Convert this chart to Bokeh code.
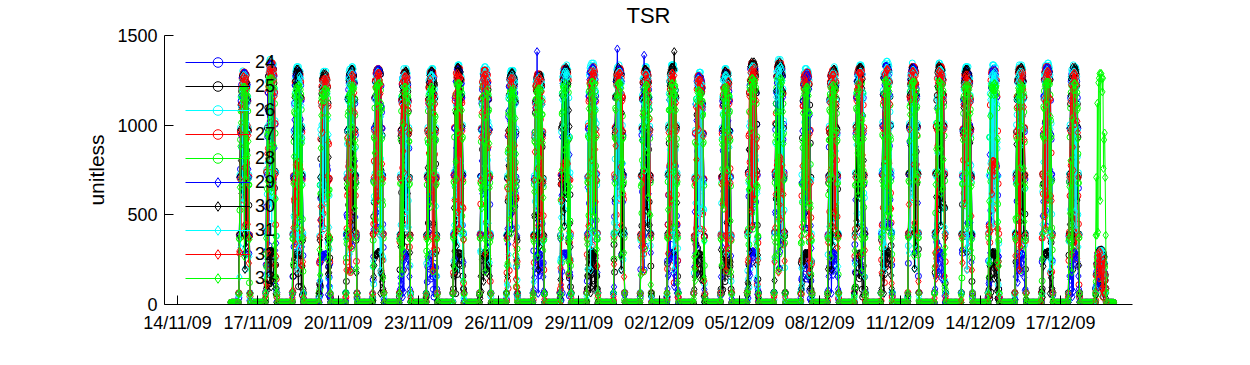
import numpy as np
import pandas as pd
from bokeh.plotting import figure
from bokeh.models import Range1d, FixedTicker, DatetimeTickFormatter, Legend, LegendItem, Title
from bokeh.embed import file_html
from bokeh.resources import INLINE

# ---------------- data ----------------
SERIES = ["24", "25", "26", "27", "28", "29", "30", "31", "32", "33"]
COLORS = ["#0000FF", "#000000", "#00FFFF", "#FF0000", "#00FF00",
          "#0000FF", "#000000", "#00FFFF", "#FF0000", "#00FF00"]
MARKERS = ["circle"] * 5 + ["diamond"] * 5

START_DATE = "2009-11-16"          # first day with data
# daily peak read from the top clusters, 16/11/09 .. 18/12/09
DAY_PEAK = [1290, 1340, 1300, 1275, 1300, 1310, 1290, 1290, 1310, 1300,
            1280, 1280, 1310, 1320, 1310, 1300, 1310, 1270, 1290, 1340,
            1340, 1290, 1300, 1310, 1330, 1320, 1320, 1300, 1310, 1310,
            1320, 1310, 1370]
SERIES_GAIN = [1.00, 1.00, 1.02, 1.005, 0.95, 1.00, 1.01, 0.99, 0.985, 0.94]
# H = sunny, M = partly cloudy, L = overcast / low reading
DAY_TYPE = {
    "24": "HHHMHHHLHHHHLHHHMHHHHLHHHHHHMHHHL",
    "25": "HHLHHHHHLHHHHLHHHHLHHHHLHHHHLHHHL",
    "26": "HHHHHMHHHHHHHHHHHHHMHHHHHHHHHHHHL",
    "27": "HHHHMHHHHHMHHHHHMHHHHHHHMHHHHHHML",
    "28": "HHHHHHHHHHHHHHHHHHHHHHHHHHHHHHHHL",
    "29": "HHHLHHLHHHHLHHHHLHHLHHLHHHLHHLHLL",
    "30": "HLHHHLHHHLHHHLHHHLHHHLHHLHHHLHLHL",
    "31": "HHHHHHHHMHHHHHHHHHHHHMHHHHHHHHHHL",
    "32": "HHMHHHHHHHHHMHHHHHHHMHHHHHHHMHHHL",
    "33": "HHHHHHHHHHHHHHHHHHHHHHHHHHHHHHHHH",
}
DAY_TYPE_FACTOR = {"H": 1.0, "M": 0.62, "L": 0.22}
NIGHT_LEVEL = 12
# half-hourly fraction of the daily peak (00:00 .. 23:30)
PROFILE = [0, 0, 0, 0, 0, 0, 0, 0, 0, 0,
           0, 0, 0, 0, 0.05, 0.30, 0.55, 0.75, 0.88, 0.95,
           0.98, 0.99, 1.00, 1.00, 1.00, 1.00, 1.00, 0.99, 0.98, 0.95,
           0.88, 0.75, 0.55, 0.30, 0.05, 0, 0, 0, 0, 0,
           0, 0, 0, 0, 0, 0, 0, 0]
# cloud attenuation readings
CLOUD = [1.00, 0.98, 1.00, 0.62, 1.00, 0.97, 0.35, 1.00, 0.99, 1.00,
         0.81, 1.00, 0.55, 0.96, 1.00, 1.00, 0.22, 0.99, 1.00, 0.74,
         1.00, 0.98, 0.45, 1.00, 1.00, 0.90, 0.30, 1.00, 0.97, 1.00,
         0.68, 1.00, 0.99, 0.15, 1.00, 0.95, 1.00, 0.58, 1.00, 1.00,
         0.85, 0.40, 1.00, 0.98, 1.00, 0.70, 1.00, 0.25, 0.99, 1.00,
         0.93, 1.00, 0.50, 1.00, 0.97, 0.33, 1.00, 1.00, 0.78, 1.00, 0.60]
# isolated high readings (series, day index, half-hour slot, value)
SPIKE_SERIES = ["29", "29", "29", "30"]
SPIKE_DAY = [11, 14, 15, 16]
SPIKE_SLOT = [21, 21, 21, 27]
SPIKE_VALUE = [1410, 1425, 1390, 1410]

TICK_LABELS = ["14/11/09", "17/11/09", "20/11/09", "23/11/09", "26/11/09", "29/11/09",
               "02/12/09", "05/12/09", "08/12/09", "11/12/09", "14/12/09", "17/12/09"]
Y_TICKS = [0, 500, 1000, 1500]
X_START = "2009-11-13 12:20"
X_END = "2009-12-19 16:30"
Y_MAX = 1500
TITLE = "TSR"

# ---------------- figure ----------------
MS_DAY = 86400000.0
base_ms = pd.Timestamp(START_DATE).value / 1e6
tick_ms = [pd.to_datetime(t, format="%d/%m/%y").value / 1e6 for t in TICK_LABELS]

FONT = "Liberation Sans"
p = figure(width=1234, height=349, output_backend="svg", toolbar_location=None,
           x_axis_type="datetime", title_location=None,
           x_range=Range1d(pd.Timestamp(X_START).value / 1e6, pd.Timestamp(X_END).value / 1e6),
           y_range=Range1d(0, Y_MAX),
           min_border_left=164, min_border_right=102, min_border_top=34, min_border_bottom=45)

# spacer between frame and title, then the title itself
p.add_layout(Title(text=" ", text_font_size="5px", standoff=0), "above")
p.add_layout(Title(text=TITLE, align="center", text_font=FONT, text_font_size="22px",
                   text_font_style="normal", text_color="black", standoff=0), "above")

p.outline_line_color = None
p.xgrid.visible = False
p.ygrid.visible = False
p.background_fill_color = "white"
p.border_fill_color = "white"

items = []
for si, name in enumerate(SERIES):
    types = DAY_TYPE[name].ljust(len(DAY_PEAK), "H")
    xs, ys = [], []
    for d, peak in enumerate(DAY_PEAK):
        f = DAY_TYPE_FACTOR[types[d]]
        for k, prof in enumerate(PROFILE):
            if MARKERS[si] == "diamond" and (k < 13 or k > 35):
                continue
            c = CLOUD[(si * 17 + d * 29 + k * 7) % len(CLOUD)]
            v = peak * SERIES_GAIN[si] * f * prof * c if prof > 0 else NIGHT_LEVEL
            for sn, sd, sk, sv in zip(SPIKE_SERIES, SPIKE_DAY, SPIKE_SLOT, SPIKE_VALUE):
                if sn == name and sd == d and sk == k:
                    v = sv
            xs.append(base_ms + (d + k / 48.0) * MS_DAY)
            ys.append(v)
    col = COLORS[si]
    lr = p.line(xs, ys, line_color=col, line_width=1)
    sr = p.scatter(xs, ys, marker=MARKERS[si], size=6 if MARKERS[si] == "circle" else 8,
                   line_color=col, fill_color=None, line_width=1)
    items.append(LegendItem(label=name, renderers=[lr, sr]))

legend = Legend(items=items, location=(16, 9), orientation="vertical")
legend.glyph_width = 65
legend.glyph_height = 24
legend.label_height = 24
legend.spacing = 0
legend.padding = 5
legend.margin = 0
legend.label_standoff = 5
legend.label_text_font = FONT
legend.label_text_font_size = "18px"
legend.label_text_color = "black"
legend.background_fill_alpha = 0
legend.border_line_alpha = 0
p.add_layout(legend)

p.xaxis.ticker = FixedTicker(ticks=tick_ms)
fmt = "%d/%m/%y"
p.xaxis.formatter = DatetimeTickFormatter(milliseconds=fmt, seconds=fmt, minsec=fmt, minutes=fmt,
                                          hourmin=fmt, hours=fmt, days=fmt, months=fmt, years=fmt)
p.yaxis.ticker = FixedTicker(ticks=Y_TICKS)
p.yaxis.axis_label = "unitless"
p.yaxis.axis_label_text_font = FONT
p.yaxis.axis_label_text_font_size = "21px"
p.yaxis.axis_label_text_font_style = "normal"
p.yaxis.axis_label_text_color = "black"
p.yaxis.axis_label_standoff = 6
for ax in (p.xaxis, p.yaxis):
    ax.major_tick_in = 9
    ax.major_tick_out = 0
    ax.minor_tick_in = 0
    ax.minor_tick_out = 0
    ax.axis_line_color = "black"
    ax.major_tick_line_color = "black"
    ax.major_label_text_font = FONT
    ax.major_label_text_font_size = "18px"
    ax.major_label_text_color = "black"
p.yaxis.major_label_standoff = 7
p.xaxis.major_label_standoff = 8

open("out.html", "w").write(file_html(p, INLINE))
